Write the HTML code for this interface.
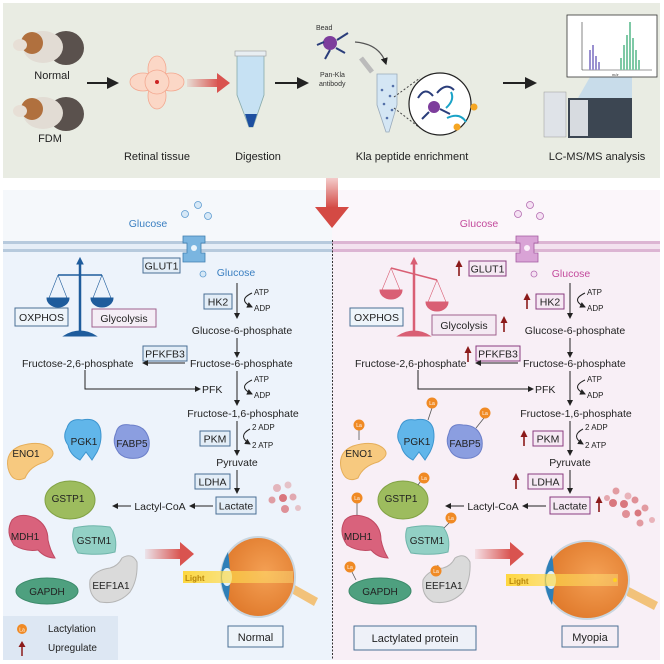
<!DOCTYPE html>
<html><head><meta charset="utf-8"><style>
html,body{margin:0;padding:0;background:#fff;}
svg{display:block;font-family:"Liberation Sans",sans-serif;}
</style></head><body>
<svg width="664" height="664" viewBox="0 0 664 664" xmlns="http://www.w3.org/2000/svg">
<defs>
<marker id="ah" markerWidth="6" markerHeight="6" refX="5" refY="3" orient="auto"><path d="M0,0 L6,3 L0,6 Z" fill="#222"/></marker>
<linearGradient id="redg" x1="0" x2="1"><stop offset="0" stop-color="#d9534f" stop-opacity="0.1"/><stop offset="1" stop-color="#d9534f"/></linearGradient>
<linearGradient id="redv" x1="0" y1="0" x2="0" y2="1"><stop offset="0" stop-color="#d9534f" stop-opacity="0.3"/><stop offset="1" stop-color="#d44a44"/></linearGradient>
<radialGradient id="eyeg" cx="0.6" cy="0.45" r="0.6"><stop offset="0" stop-color="#f4a054"/><stop offset="1" stop-color="#e07a2c"/></radialGradient>
<linearGradient id="lightg" x1="0" x2="1"><stop offset="0" stop-color="#ffd21f"/><stop offset="1" stop-color="#ffe680" stop-opacity="0.5"/></linearGradient>
</defs>

<!-- top workflow -->
<rect x="3" y="3" width="657" height="175" fill="#e9ece3"/>
<!-- guinea pigs -->
<g>
<ellipse cx="66" cy="48" rx="18" ry="17" fill="#5a514d"/><ellipse cx="43" cy="47" rx="20" ry="16" fill="#e2dcd4"/><ellipse cx="32" cy="43" rx="11" ry="11" fill="#b0703e"/><ellipse cx="20" cy="45" rx="7" ry="6" fill="#e7dfd6"/>
<ellipse cx="66" cy="114" rx="18" ry="17" fill="#5a514d"/><ellipse cx="43" cy="113" rx="20" ry="16" fill="#e2dcd4"/><ellipse cx="32" cy="109" rx="11" ry="11" fill="#b0703e"/><ellipse cx="20" cy="111" rx="7" ry="6" fill="#e7dfd6"/>
</g>
<text x="52" y="79" font-size="11" text-anchor="middle" fill="#222">Normal</text>
<text x="50" y="142" font-size="11" text-anchor="middle" fill="#222">FDM</text>
<line x1="87" y1="83" x2="117" y2="83" stroke="#222" stroke-width="2" marker-end="url(#ah)"/>
<!-- retina -->
<g fill="#fbd7c6" stroke="#f3a890" stroke-width="0.8">
<ellipse cx="157" cy="69" rx="9" ry="13"/><ellipse cx="157" cy="96" rx="9" ry="13"/><ellipse cx="143" cy="82" rx="13" ry="9"/><ellipse cx="171" cy="82" rx="13" ry="9"/>
<ellipse cx="157" cy="82" rx="12" ry="12"/></g>
<circle cx="157" cy="82" r="2" fill="#c22"/>
<rect x="187" y="79" width="32" height="8" fill="url(#redg)"/><path d="M217,73 L230,83 L217,93 Z" fill="#d9534f"/>
<!-- tube -->
<path d="M237,55 L264,55 L264,95 L253,127 L249,127 L237,95 Z" fill="#c6e1f3" stroke="#8aa" stroke-width="0.8"/>
<rect x="235" y="51" width="31" height="5" fill="#e8eef2" stroke="#999" stroke-width="0.6"/>
<path d="M245,114 L257,114 L253,127 L249,127 Z" fill="#1d4fa0"/>
<line x1="275" y1="83" x2="307" y2="83" stroke="#222" stroke-width="2" marker-end="url(#ah)"/>
<text x="316" y="30" font-size="7" fill="#333">Bead</text>
<circle cx="330" cy="43" r="7" fill="#7d3d9c"/>
<g stroke="#2a3d7a" stroke-width="2" fill="none"><path d="M337,40 L348,33"/><path d="M330,50 L325,59"/><path d="M336,48 L345,53"/><path d="M324,42 L317,45"/></g>
<text x="320" y="77" font-size="7" fill="#333">Pan-Kla</text>
<text x="319" y="86" font-size="7" fill="#333">antibody</text>
<path d="M355,42 Q380,44 386,64" stroke="#555" stroke-width="1.2" fill="none" marker-end="url(#ah)"/>
<path d="M361,58 L372,72" stroke="#bbb" stroke-width="5"/>
<path d="M377,74 L397,74 L397,105 L389,132 L386,132 L377,105 Z" fill="#d4e6f4" stroke="#9ab" stroke-width="0.8"/>
<g fill="#5470a8"><circle cx="382" cy="90" r="1.3"/><circle cx="390" cy="96" r="1.3"/><circle cx="384" cy="104" r="1.3"/><circle cx="392" cy="110" r="1.3"/><circle cx="387" cy="118" r="1.3"/><circle cx="393" cy="86" r="1.3"/></g>
<line x1="394" y1="97" x2="420" y2="78" stroke="#444" stroke-dasharray="2,2"/><line x1="394" y1="108" x2="420" y2="128" stroke="#444" stroke-dasharray="2,2"/>
<circle cx="440" cy="104" r="31" fill="#fff" stroke="#222" stroke-width="1.2"/>
<circle cx="434" cy="107" r="6" fill="#7d3d9c"/>
<g stroke="#2a3d7a" stroke-width="2" fill="none"><path d="M418,98 Q425,86 433,96"/><path d="M437,93 Q446,82 454,90"/><path d="M440,109 L450,114"/><path d="M429,112 L422,119"/></g>
<path d="M447,118 Q460,112 466,122" stroke="#1aa3c7" stroke-width="2" fill="none"/>
<path d="M451,92 Q455,100 446,108" stroke="#1aa3c7" stroke-width="2" fill="none"/>
<circle cx="474" cy="107" r="3.5" fill="#f5a623"/><circle cx="457" cy="127" r="3.5" fill="#f5a623"/>
<line x1="503" y1="83" x2="535" y2="83" stroke="#222" stroke-width="2" marker-end="url(#ah)"/>
<!-- LC-MS -->
<rect x="544" y="92" width="22" height="45" fill="#dfe3e8" stroke="#999" stroke-width="0.5"/>
<rect x="568" y="98" width="64" height="40" fill="#3c4652"/><rect x="570" y="100" width="18" height="36" fill="#d7dbe0"/>
<path d="M590,77 L632,77 L632,98 L578,98 Z" fill="#b9d6ec" opacity="0.7"/>
<rect x="567" y="15" width="90" height="62" fill="#fff" stroke="#333" stroke-width="0.8"/>
<line x1="582" y1="22" x2="582" y2="70" stroke="#333" stroke-width="0.6"/><line x1="582" y1="70" x2="652" y2="70" stroke="#333" stroke-width="0.6"/>
<text x="612" y="76" font-size="4" fill="#333" font-style="italic">m/z</text>
<g fill="#9a90d0"><rect x="589" y="50" width="2" height="20"/><rect x="592" y="45" width="2" height="25"/><rect x="595" y="56" width="2" height="14"/><rect x="598" y="62" width="2" height="8"/></g>
<g fill="#7fc9a6"><rect x="620" y="58" width="2" height="12"/><rect x="623" y="45" width="2" height="25"/><rect x="626" y="35" width="2" height="35"/><rect x="629" y="22" width="2" height="48"/><rect x="632" y="38" width="2" height="32"/><rect x="635" y="50" width="2" height="20"/><rect x="638" y="60" width="2" height="10"/></g>
<text x="124" y="160" font-size="11" text-anchor="middle" fill="#222" transform="translate(33,0)">Retinal tissue</text>
<text x="258" y="160" font-size="11" text-anchor="middle" fill="#222">Digestion</text>
<text x="412" y="160" font-size="11" text-anchor="middle" fill="#222">Kla peptide enrichment</text>
<text x="597" y="160" font-size="11" text-anchor="middle" fill="#222">LC-MS/MS analysis</text>

<!-- panels -->
<rect x="3" y="190" width="329" height="52" fill="#f5f8fb"/>
<rect x="332" y="190" width="328" height="52" fill="#fbf6fa"/>
<rect x="3" y="242" width="329" height="418" fill="#edf3fb"/>
<rect x="332" y="242" width="328" height="418" fill="#f8eff6"/>
<rect x="3" y="241" width="329" height="11" fill="#e6eef7"/>
<rect x="3" y="241" width="329" height="3" fill="#b7cadd"/><rect x="3" y="249" width="329" height="3" fill="#b7cadd"/>
<rect x="332" y="241" width="328" height="11" fill="#f3e2ef"/>
<rect x="332" y="241" width="328" height="3" fill="#dcb5d3"/><rect x="332" y="249" width="328" height="3" fill="#dcb5d3"/>
<line x1="332.5" y1="240" x2="332.5" y2="660" stroke="#333" stroke-width="1" stroke-dasharray="2,1.5"/>
<!-- big down arrow -->
<rect x="326" y="178" width="12" height="30" fill="url(#redv)"/><path d="M315,207 L349,207 L332,228 Z" fill="#d44a44"/>

<!-- LEFT PATHWAY -->
<g font-size="10.5" fill="#222">
<text x="148" y="227" fill="#3a7fc1" text-anchor="middle">Glucose</text>
<path d="M183,236 h22 v7 h-4 v10 h4 v9 h-22 v-9 h4 v-10 h-4 z" fill="#7ab5e0" stroke="#3f7fb0" stroke-width="0.8"/>
<circle cx="194" cy="248" r="3" fill="#eaf4fb"/>
<g fill="#d6e8f6" stroke="#5d9bd0" stroke-width="0.8"><circle cx="198" cy="205" r="3.5"/><circle cx="185" cy="214" r="3.5"/><circle cx="208" cy="216" r="3.5"/><circle cx="203" cy="274" r="3"/></g>
<rect x="143" y="258" width="37" height="15" fill="#e3edf7" stroke="#4a6f94"/><text x="161.5" y="269.5" text-anchor="middle">GLUT1</text>
<text x="236" y="276" fill="#3a7fc1" text-anchor="middle">Glucose</text>
<line x1="237" y1="283" x2="237" y2="318" stroke="#222" marker-end="url(#ah)"/>
<path d="M252,293 Q237,300 252,307" stroke="#222" fill="none" marker-end="url(#ah)"/>
<text x="254" y="295" font-size="8">ATP</text><text x="254" y="311" font-size="8">ADP</text>
<rect x="204" y="294" width="28" height="15" fill="#e3edf7" stroke="#4a6f94"/><text x="218" y="305.5" text-anchor="middle">HK2</text>
<text x="242" y="334" text-anchor="middle">Glucose-6-phosphate</text>
<line x1="237" y1="338" x2="237" y2="357" stroke="#222" marker-end="url(#ah)"/>
<rect x="143" y="346" width="44" height="15" fill="#e3edf7" stroke="#4a6f94"/><text x="165" y="357.5" text-anchor="middle">PFKFB3</text>
<text x="22" y="367">Fructose-2,6-phosphate</text>
<text x="190" y="367">Fructose-6-phosphate</text>
<line x1="185" y1="363" x2="143" y2="363" stroke="#222" marker-end="url(#ah)"/>
<path d="M85,370 V389 H200" stroke="#222" fill="none" marker-end="url(#ah)"/>
<text x="202" y="393">PFK</text>
<line x1="237" y1="371" x2="237" y2="405" stroke="#222" marker-end="url(#ah)"/>
<path d="M252,380 Q237,387 252,394" stroke="#222" fill="none" marker-end="url(#ah)"/>
<text x="254" y="382" font-size="8">ATP</text><text x="254" y="398" font-size="8">ADP</text>
<text x="243" y="417" text-anchor="middle">Fructose-1,6-phosphate</text>
<line x1="237" y1="421" x2="237" y2="455" stroke="#222" marker-end="url(#ah)"/>
<path d="M250,429 Q237,436 250,444" stroke="#222" fill="none" marker-end="url(#ah)"/>
<text x="252" y="430" font-size="8">2 ADP</text><text x="252" y="448" font-size="8">2 ATP</text>
<rect x="200" y="431" width="30" height="15" fill="#e3edf7" stroke="#4a6f94"/><text x="215" y="442.5" text-anchor="middle">PKM</text>
<text x="237" y="466" text-anchor="middle">Pyruvate</text>
<line x1="237" y1="470" x2="237" y2="493" stroke="#222" marker-end="url(#ah)"/>
<rect x="195" y="474" width="35" height="15" fill="#e3edf7" stroke="#4a6f94"/><text x="212.5" y="485.5" text-anchor="middle">LDHA</text>
<rect x="216" y="497" width="40" height="17" fill="#e3edf7" stroke="#4a6f94"/><text x="236" y="509.5" text-anchor="middle">Lactate</text>
<line x1="213" y1="506" x2="190" y2="506" stroke="#222" marker-end="url(#ah)"/>
<text x="160" y="510" text-anchor="middle">Lactyl-CoA</text>
<line x1="131" y1="506" x2="113" y2="506" stroke="#222" marker-end="url(#ah)"/>
<g fill="#d9777e"><circle cx="277" cy="488" r="4" opacity="0.5"/><circle cx="288" cy="485" r="3.5" opacity="0.4"/><circle cx="283" cy="498" r="4"/><circle cx="272" cy="500" r="3.5" opacity="0.7"/><circle cx="293" cy="497" r="3.5" opacity="0.6"/><circle cx="285" cy="509" r="4" opacity="0.8"/><circle cx="298" cy="508" r="3" opacity="0.4"/></g>
<!-- scale -->
<g fill="#1f5c9c" stroke="#1f5c9c"><line x1="80" y1="262" x2="80" y2="332" stroke-width="2.5"/><path d="M77,264 L80,258 L83,264 Z"/>
<line x1="58" y1="275" x2="102" y2="275" stroke-width="1.5"/>
<line x1="58" y1="275" x2="49" y2="298" stroke-width="0.6"/><line x1="58" y1="275" x2="67" y2="298" stroke-width="0.6"/>
<line x1="102" y1="275" x2="93" y2="298" stroke-width="0.6"/><line x1="102" y1="275" x2="111" y2="298" stroke-width="0.6"/>
<path d="M47,298 H69 A11,9 0 0 1 47,298 Z"/><path d="M91,298 H113 A11,9 0 0 1 91,298 Z"/>
<path d="M64,336 Q80,326 96,336 Z"/></g>
<rect x="15" y="308" width="53" height="18" fill="#eef4fa" stroke="#4a6f94"/><text x="41.5" y="321" text-anchor="middle">OXPHOS</text>
<rect x="92" y="309" width="64" height="18" fill="#f4eef6" stroke="#a0628e"/><text x="124" y="322" text-anchor="middle">Glycolysis</text>
</g>
<!-- left proteins -->
<g font-size="10" fill="#222" text-anchor="middle">
<path d="M8,468 Q5,452 20,446 Q40,440 50,448 Q58,455 45,462 Q30,466 25,478 Q12,484 8,468 Z" fill="#f7c97f" stroke="#e5ae5a"/><text x="26" y="457">ENO1</text>
<path d="M67,428 Q70,418 82,420 Q96,417 100,428 Q103,440 97,452 L92,460 L86,452 L80,460 Q70,455 68,445 Q62,437 67,428 Z" fill="#61b6ea" stroke="#3d95cf"/><text x="84" y="445">PGK1</text>
<path d="M116,433 Q118,423 130,425 Q146,425 149,440 Q151,455 138,458 Q122,460 117,450 Q112,442 116,433 Z" fill="#8b9ee0" stroke="#6c7fc9"/><text x="132" y="447">FABP5</text>
<ellipse cx="70" cy="500" rx="25" ry="19" fill="#9dbc5e" stroke="#82a245"/><text x="68" y="502">GSTP1</text>
<path d="M12,520 Q20,512 35,518 Q48,525 48,540 Q50,550 55,558 Q45,558 38,550 Q25,552 14,545 Q5,532 12,520 Z" fill="#d9627c" stroke="#c04a63"/><text x="25" y="540">MDH1</text>
<path d="M74,528 Q90,524 110,527 Q118,537 115,552 Q100,556 78,553 Q70,540 74,528 Z" fill="#92d0c5" stroke="#6fb5aa"/><text x="94" y="544">GSTM1</text>
<ellipse cx="47" cy="591" rx="31" ry="13" fill="#4ea07f" stroke="#3c8a6a"/><text x="47" y="595">GAPDH</text>
<path d="M90,580 Q95,570 110,568 Q118,566 122,558 Q132,552 137,562 Q138,580 130,592 Q118,605 100,602 Q88,596 90,580 Z" fill="#dadada" stroke="#b5b5b5"/><text x="111" y="589">EEF1A1</text>
</g>
<rect x="145" y="549" width="36" height="10" fill="url(#redg)"/><path d="M180,542 L194,554 L180,566 Z" fill="#d9534f"/>
<!-- left eye -->
<g>
<path d="M318,598 L293,584 L293,594 L314,606 Z" fill="#f2c27a"/>
<ellipse cx="258" cy="577" rx="37" ry="40" fill="url(#eyeg)" stroke="#c9d6e0" stroke-width="2"/>
<path d="M228,552 Q214,577 228,602 Q232,577 228,552 Z" fill="#2e7fb8"/>
<ellipse cx="227" cy="577" rx="5" ry="9" fill="#dff0fa"/>
<rect x="183" y="571" width="110" height="12" fill="url(#lightg)" opacity="0.85"/>
<text x="185" y="581" font-size="8" font-weight="bold" fill="#b8860b">Light</text>
</g>
<rect x="228" y="626" width="55" height="21" fill="#eef4fa" stroke="#4a6f94"/><text x="255.5" y="641" font-size="11" text-anchor="middle" fill="#222">Normal</text>
<!-- legend -->
<rect x="3" y="616" width="115" height="44" fill="#dde7f3"/>
<circle cx="22" cy="629" r="5" fill="#f08a24"/><text x="22" y="631.5" font-size="5" fill="#fff" text-anchor="middle">La</text>
<text x="48" y="632" font-size="10" fill="#222">Lactylation</text>
<line x1="22" y1="656" x2="22" y2="645" stroke="#8b1a1a" stroke-width="1.5"/><path d="M18.5,647 L22,641 L25.5,647 Z" fill="#8b1a1a"/>
<text x="48" y="651" font-size="10" fill="#222">Upregulate</text>

<!-- RIGHT PATHWAY -->
<g font-size="10.5" fill="#222">
<text x="479" y="227" fill="#c34a9c" text-anchor="middle">Glucose</text>
<path d="M516,236 h22 v7 h-4 v10 h4 v9 h-22 v-9 h4 v-10 h-4 z" fill="#d9a3d6" stroke="#a35ba1" stroke-width="0.8"/>
<circle cx="527" cy="248" r="3" fill="#fbeefa"/>
<g fill="#f5e1f3" stroke="#b36bb0" stroke-width="0.8"><circle cx="530" cy="205" r="3.5"/><circle cx="518" cy="214" r="3.5"/><circle cx="540" cy="216" r="3.5"/><circle cx="534" cy="274" r="3"/></g>
<rect x="469" y="261" width="37" height="15" fill="#f5e8f3" stroke="#8a3c80"/><text x="487.5" y="272.5" text-anchor="middle">GLUT1</text>
<text x="571" y="277" fill="#c34a9c" text-anchor="middle">Glucose</text>
<line x1="570" y1="283" x2="570" y2="318" stroke="#222" marker-end="url(#ah)"/>
<path d="M585,293 Q570,300 585,307" stroke="#222" fill="none" marker-end="url(#ah)"/>
<text x="587" y="295" font-size="8">ATP</text><text x="587" y="311" font-size="8">ADP</text>
<rect x="536" y="294" width="28" height="15" fill="#f5e8f3" stroke="#8a3c80"/><text x="550" y="305.5" text-anchor="middle">HK2</text>
<text x="575" y="334" text-anchor="middle">Glucose-6-phosphate</text>
<line x1="570" y1="338" x2="570" y2="357" stroke="#222" marker-end="url(#ah)"/>
<rect x="476" y="346" width="44" height="15" fill="#f5e8f3" stroke="#8a3c80"/><text x="498" y="357.5" text-anchor="middle">PFKFB3</text>
<text x="355" y="367">Fructose-2,6-phosphate</text>
<text x="523" y="367">Fructose-6-phosphate</text>
<line x1="518" y1="363" x2="476" y2="363" stroke="#222" marker-end="url(#ah)"/>
<path d="M418,370 V389 H533" stroke="#222" fill="none" marker-end="url(#ah)"/>
<text x="535" y="393">PFK</text>
<line x1="570" y1="371" x2="570" y2="405" stroke="#222" marker-end="url(#ah)"/>
<path d="M585,380 Q570,387 585,394" stroke="#222" fill="none" marker-end="url(#ah)"/>
<text x="587" y="382" font-size="8">ATP</text><text x="587" y="398" font-size="8">ADP</text>
<text x="576" y="417" text-anchor="middle">Fructose-1,6-phosphate</text>
<line x1="570" y1="421" x2="570" y2="455" stroke="#222" marker-end="url(#ah)"/>
<path d="M583,429 Q570,436 583,444" stroke="#222" fill="none" marker-end="url(#ah)"/>
<text x="585" y="430" font-size="8">2 ADP</text><text x="585" y="448" font-size="8">2 ATP</text>
<rect x="533" y="431" width="30" height="15" fill="#f5e8f3" stroke="#8a3c80"/><text x="548" y="442.5" text-anchor="middle">PKM</text>
<text x="570" y="466" text-anchor="middle">Pyruvate</text>
<line x1="570" y1="470" x2="570" y2="493" stroke="#222" marker-end="url(#ah)"/>
<rect x="528" y="474" width="35" height="15" fill="#f5e8f3" stroke="#8a3c80"/><text x="545.5" y="485.5" text-anchor="middle">LDHA</text>
<rect x="550" y="497" width="40" height="17" fill="#f5e8f3" stroke="#8a3c80"/><text x="570" y="509.5" text-anchor="middle">Lactate</text>
<line x1="546" y1="506" x2="523" y2="506" stroke="#222" marker-end="url(#ah)"/>
<text x="493" y="510" text-anchor="middle">Lactyl-CoA</text>
<line x1="464" y1="506" x2="446" y2="506" stroke="#222" marker-end="url(#ah)"/>
<g fill="#d9777e"><circle cx="616" cy="491" r="3.5" opacity="0.7"/><circle cx="628" cy="496" r="3.5" opacity="0.5"/><circle cx="613" cy="503" r="4"/><circle cx="624" cy="504" r="4"/><circle cx="635" cy="500" r="3.5" opacity="0.8"/><circle cx="645" cy="508" r="3.5" opacity="0.7"/><circle cx="626" cy="514" r="4" opacity="0.8"/><circle cx="638" cy="513" r="3.5"/><circle cx="652" cy="520" r="3" opacity="0.5"/><circle cx="640" cy="523" r="3.5" opacity="0.7"/><circle cx="607" cy="498" r="3" opacity="0.6"/></g>
<!-- scale tilted -->
<g fill="#d95f74" stroke="#d95f74"><line x1="414" y1="262" x2="414" y2="332" stroke-width="2.5"/><path d="M411,264 L414,258 L417,264 Z"/>
<line x1="391" y1="268" x2="437" y2="280" stroke-width="1.5"/>
<line x1="391" y1="268" x2="382" y2="290" stroke-width="0.6"/><line x1="391" y1="268" x2="400" y2="290" stroke-width="0.6"/>
<line x1="437" y1="280" x2="428" y2="302" stroke-width="0.6"/><line x1="437" y1="280" x2="446" y2="302" stroke-width="0.6"/>
<path d="M380,290 H402 A11,9 0 0 1 380,290 Z"/><path d="M426,302 H448 A11,9 0 0 1 426,302 Z"/>
<path d="M398,336 Q414,326 430,336 Z"/></g>
<rect x="350" y="308" width="53" height="18" fill="#eef4fa" stroke="#4a6f94"/><text x="376.5" y="321" text-anchor="middle">OXPHOS</text>
<rect x="432" y="315" width="64" height="20" fill="#f4eaf3" stroke="#a0628e"/><text x="464" y="329" text-anchor="middle">Glycolysis</text>
</g>
<!-- up arrows right -->
<g fill="#8b1a1a" stroke="#8b1a1a" stroke-width="1.6">
<line x1="459" y1="276" x2="459" y2="265"/><path d="M455.5,267 L459,260 L462.5,267 Z" stroke="none"/>
<line x1="527" y1="309" x2="527" y2="298"/><path d="M523.5,300 L527,293 L530.5,300 Z" stroke="none"/>
<line x1="504" y1="332" x2="504" y2="321"/><path d="M500.5,323 L504,316 L507.5,323 Z" stroke="none"/>
<line x1="468" y1="362" x2="468" y2="351"/><path d="M464.5,353 L468,346 L471.5,353 Z" stroke="none"/>
<line x1="524" y1="446" x2="524" y2="435"/><path d="M520.5,437 L524,430 L527.5,437 Z" stroke="none"/>
<line x1="516" y1="489" x2="516" y2="478"/><path d="M512.5,480 L516,473 L519.5,480 Z" stroke="none"/>
<line x1="599" y1="512" x2="599" y2="501"/><path d="M595.5,503 L599,496 L602.5,503 Z" stroke="none"/>
</g>
<!-- right proteins -->
<g font-size="10" fill="#222" text-anchor="middle">
<path d="M341,468 Q338,452 353,446 Q373,440 383,448 Q391,455 378,462 Q363,466 358,478 Q345,484 341,468 Z" fill="#f7c97f" stroke="#e5ae5a"/><text x="359" y="457">ENO1</text>
<path d="M400,428 Q403,418 415,420 Q429,417 433,428 Q436,440 430,452 L425,460 L419,452 L413,460 Q403,455 401,445 Q395,437 400,428 Z" fill="#61b6ea" stroke="#3d95cf"/><text x="417" y="445">PGK1</text>
<path d="M449,433 Q451,423 463,425 Q479,425 482,440 Q484,455 471,458 Q455,460 450,450 Q445,442 449,433 Z" fill="#8b9ee0" stroke="#6c7fc9"/><text x="465" y="447">FABP5</text>
<ellipse cx="403" cy="500" rx="25" ry="19" fill="#9dbc5e" stroke="#82a245"/><text x="401" y="502">GSTP1</text>
<path d="M345,520 Q353,512 368,518 Q381,525 381,540 Q383,550 388,558 Q378,558 371,550 Q358,552 347,545 Q338,532 345,520 Z" fill="#d9627c" stroke="#c04a63"/><text x="358" y="540">MDH1</text>
<path d="M407,528 Q423,524 443,527 Q451,537 448,552 Q433,556 411,553 Q403,540 407,528 Z" fill="#92d0c5" stroke="#6fb5aa"/><text x="427" y="544">GSTM1</text>
<ellipse cx="380" cy="591" rx="31" ry="13" fill="#4ea07f" stroke="#3c8a6a"/><text x="380" y="595">GAPDH</text>
<path d="M423,580 Q428,570 443,568 Q451,566 455,558 Q465,552 470,562 Q471,580 463,592 Q451,605 433,602 Q421,596 423,580 Z" fill="#dadada" stroke="#b5b5b5"/><text x="444" y="589">EEF1A1</text>
</g>
<!-- La tags -->
<g stroke="#555" stroke-width="0.8"><line x1="359" y1="430" x2="359" y2="440"/><line x1="432" y1="408" x2="428" y2="420"/><line x1="484" y1="418" x2="476" y2="428"/><line x1="423" y1="478" x2="418" y2="485"/><line x1="357" y1="503" x2="357" y2="515"/><line x1="450" y1="522" x2="444" y2="528"/><line x1="352" y1="572" x2="356" y2="580"/><line x1="436" y1="576" x2="438" y2="565"/></g>
<g fill="#f08a24"><circle cx="359" cy="425" r="5.5"/><circle cx="432" cy="403" r="5.5"/><circle cx="485" cy="413" r="5.5"/><circle cx="424" cy="478" r="5.5"/><circle cx="357" cy="498" r="5.5"/><circle cx="451" cy="518" r="5.5"/><circle cx="350" cy="567" r="5.5"/><circle cx="436" cy="571" r="5.5"/></g>
<g font-size="5" fill="#fff" text-anchor="middle"><text x="359" y="427">La</text><text x="432" y="405">La</text><text x="485" y="415">La</text><text x="424" y="480">La</text><text x="357" y="500">La</text><text x="451" y="520">La</text><text x="350" y="569">La</text><text x="436" y="573">La</text></g>
<rect x="475" y="549" width="36" height="10" fill="url(#redg)"/><path d="M510,542 L524,554 L510,566 Z" fill="#d9534f"/>
<!-- right eye (elongated) -->
<g>
<path d="M658,602 L627,586 L627,596 L654,610 Z" fill="#f2c27a"/>
<ellipse cx="587" cy="580" rx="42" ry="39" fill="url(#eyeg)" stroke="#c9d6e0" stroke-width="2"/>
<path d="M552,555 Q538,580 552,605 Q556,580 552,555 Z" fill="#2e7fb8"/>
<ellipse cx="551" cy="580" rx="5" ry="9" fill="#dff0fa"/>
<rect x="506" y="574" width="112" height="12" fill="url(#lightg)" opacity="0.85"/>
<circle cx="615" cy="580" r="2" fill="#ffd21f"/>
<text x="509" y="584" font-size="8" font-weight="bold" fill="#b8860b">Light</text>
</g>
<rect x="354" y="626" width="122" height="24" fill="#eef1f8" stroke="#4a6f94"/><text x="415" y="642" font-size="11" text-anchor="middle" fill="#222">Lactylated protein</text>
<rect x="562" y="626" width="56" height="21" fill="#f5eef5" stroke="#4a6f94"/><text x="590" y="641" font-size="11" text-anchor="middle" fill="#222">Myopia</text>
</svg>
</body></html>
